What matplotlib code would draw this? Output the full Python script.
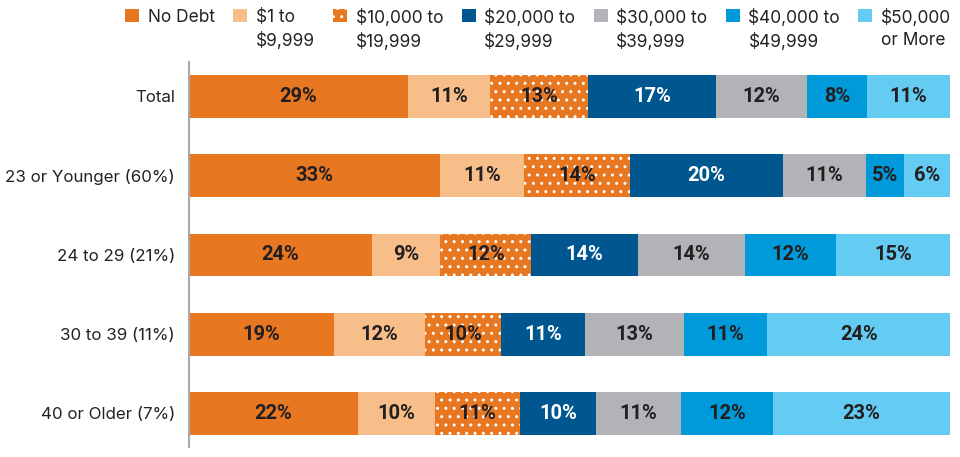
import matplotlib
matplotlib.use("Agg")
import matplotlib.pyplot as plt
from matplotlib.patches import Patch
import numpy as np

plt.rcParams['hatch.linewidth'] = 1.0

categories = ["Total", "23 or Younger (60%)", "24 to 29 (21%)", "30 to 39 (11%)", "40 or Older (7%)"]
series_names = ["No Debt", "$1 to\n$9,999", "$10,000 to\n$19,999", "$20,000 to\n$29,999",
                "$30,000 to\n$39,999", "$40,000 to\n$49,999", "$50,000\nor More"]

no_debt = [29, 33, 24, 19, 22]
debt_1_9999 = [11, 11, 9, 12, 10]
debt_10k_19k = [13, 14, 12, 10, 11]
debt_20k_29k = [17, 20, 14, 11, 10]
debt_30k_39k = [12, 11, 14, 13, 11]
debt_40k_49k = [8, 5, 12, 11, 12]
debt_50k_plus = [11, 6, 15, 24, 23]

series = [no_debt, debt_1_9999, debt_10k_19k, debt_20k_29k, debt_30k_39k, debt_40k_49k, debt_50k_plus]
colors = ["#E87722", "#F7BE89", "#E87722", "#00578F", "#B1B3B6", "#009ADA", "#64CBF2"]
hatches = [None, None, "..", None, None, None, None]
text_colors = ["#231F20", "#231F20", "#231F20", "#FFFFFF", "#231F20", "#231F20", "#231F20"]

data = np.array(series, dtype=float)
totals = data.sum(axis=0)
widths = data / totals * 100

fig = plt.figure(figsize=(9.6, 4.57), dpi=100)
ax = fig.add_axes([189/960, 1 - 447/457, (950-189)/960, (447-62)/457])

y = np.arange(len(categories))
left = np.zeros(len(categories))
for i, (w, vals) in enumerate(zip(widths, data)):
    if hatches[i]:
        bars = ax.barh(y, w, left=left, height=0.54, color=colors[i], hatch=hatches[i],
                       edgecolor="white", linewidth=0)
    else:
        bars = ax.barh(y, w, left=left, height=0.54, color=colors[i], linewidth=0)
    for j, b in enumerate(bars):
        ax.text(left[j] + w[j] / 2, y[j], f"{int(vals[j])}%", ha="center", va="center",
                color=text_colors[i], fontsize=14.5, fontweight="bold", family="Roboto")
    left += w

ax.set_xlim(0, 100)
ax.set_ylim(4.423, -0.435)
ax.set_yticks(y)
ax.set_yticklabels(categories, family="Inter", fontsize=12.2, color="#222222")
ax.tick_params(axis="y", length=0, pad=10)
ax.set_xticks([])
for s in ["top", "right", "bottom"]:
    ax.spines[s].set_visible(False)
ax.spines["left"].set_color("#A7A9AC")
ax.spines["left"].set_linewidth(1.5)

handles = []
for i in range(len(series_names)):
    if hatches[i]:
        handles.append(Patch(facecolor=colors[i], hatch=hatches[i], edgecolor="white", linewidth=0))
    else:
        handles.append(Patch(facecolor=colors[i], linewidth=0))

leg = fig.legend(handles, series_names, loc="upper left", bbox_to_anchor=(125/960, 1 - 9/457),
                 ncol=7, frameon=False, borderpad=0, borderaxespad=0,
                 handlelength=0.82, handleheight=0.82, handletextpad=0.5, columnspacing=1.05,
                 prop={"family": "Inter", "size": 12.45})
for t in leg.get_texts():
    t.set_color("#222222")
    t.set_linespacing(1.4)
try:
    leg._legend_handle_box.align = "top"
    for col in leg._legend_handle_box.get_children():
        col.align = "left"
        for item in col.get_children():
            item.align = "top"
except Exception:
    pass

fig.savefig("out.png", dpi=100)
